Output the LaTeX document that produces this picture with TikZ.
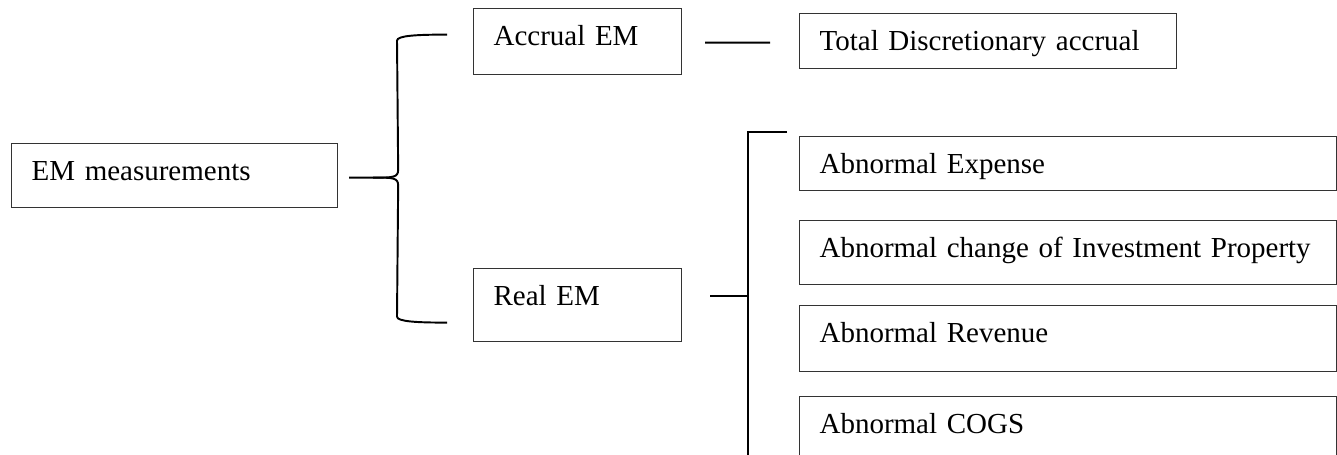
\documentclass[tikz,border=0pt]{standalone}
\usepackage{fontspec}
\setmainfont{Liberation Serif}
\usepackage{tikz}
\usetikzlibrary{positioning,calc}

\tikzset{
  mbox/.style 2 args={draw=black!80, line width=0.7pt, anchor=north west, align=left,
    inner xsep=0.4cm, inner ysep=0pt, text width=#1, text height=0.74cm, text depth=#2,
    font=\fontsize{16.5}{19}\selectfont},
  link/.style={line width=1.1pt},
}

\begin{document}
\begin{tikzpicture}[x=0.02cm, y=-0.02cm]
    \useasboundingbox (0,0) rectangle (1337,455);

    % Boxes
    \node[mbox={5.72cm}{0.54cm}] (em) at (11,143) {EM measurements};
    \node[mbox={3.36cm}{0.58cm}] (accrual) at (473,8) {Accrual EM};
    \node[mbox={3.36cm}{0.72cm}] (real) at (473,268) {Real EM};
    \node[mbox={6.74cm}{0.36cm}] (total) at (799,13) {Total Discretionary accrual};
    \node[mbox={9.94cm}{0.34cm}] (expense) at (799,136) {Abnormal Expense};
    \node[mbox={9.94cm}{0.54cm}] (invest) at (799,220) {Abnormal change of Investment Property};
    \node[mbox={9.94cm}{0.58cm}] (revenue) at (799,305) {Abnormal Revenue};
    \node[mbox={9.94cm}{0.66cm}] (cogs) at (799,396) {Abnormal COGS};

    % Brace
    \coordinate (tip) at ($(em.east)+(11,2)$);
    \coordinate (up) at ($(accrual.west)+(-26,-7)$);
    \coordinate (down) at ($(real.west)+(-26,17.5)$);
    \draw[link] (tip) -- ++(24,0) .. controls +(20,0) and +(0,8) .. ($(tip)+(49,-8)$)
        -- ($(up)+(-50,6)$) .. controls +(0,-5) and +(-30,0) .. (up);
    \draw[link] ($(tip)+(24,0)$) .. controls +(20,0) and +(0,-8) .. ($(tip)+(49,8)$)
        -- ($(down)+(-50,-6)$) .. controls +(0,5) and +(-30,0) .. (down);

    % Accrual line
    \coordinate (a1) at ($(accrual.east)+(23,1)$);
    \coordinate (a2) at ($(total.west)+(-29,1.5)$);
    \draw[link] (a1) -- (a2);

    % Bracket
    \coordinate (r1) at ($(real.east)+(28,-9.5)$);
    \coordinate (btop) at ($(expense.north west)+(-12,-4)$);
    \coordinate (bbot) at ($(cogs.south west)+(-51,0)$);
    \draw[link] (btop) -| (bbot);
    \draw[link] (r1) -- (r1 -| bbot);
\end{tikzpicture}
\end{document}
